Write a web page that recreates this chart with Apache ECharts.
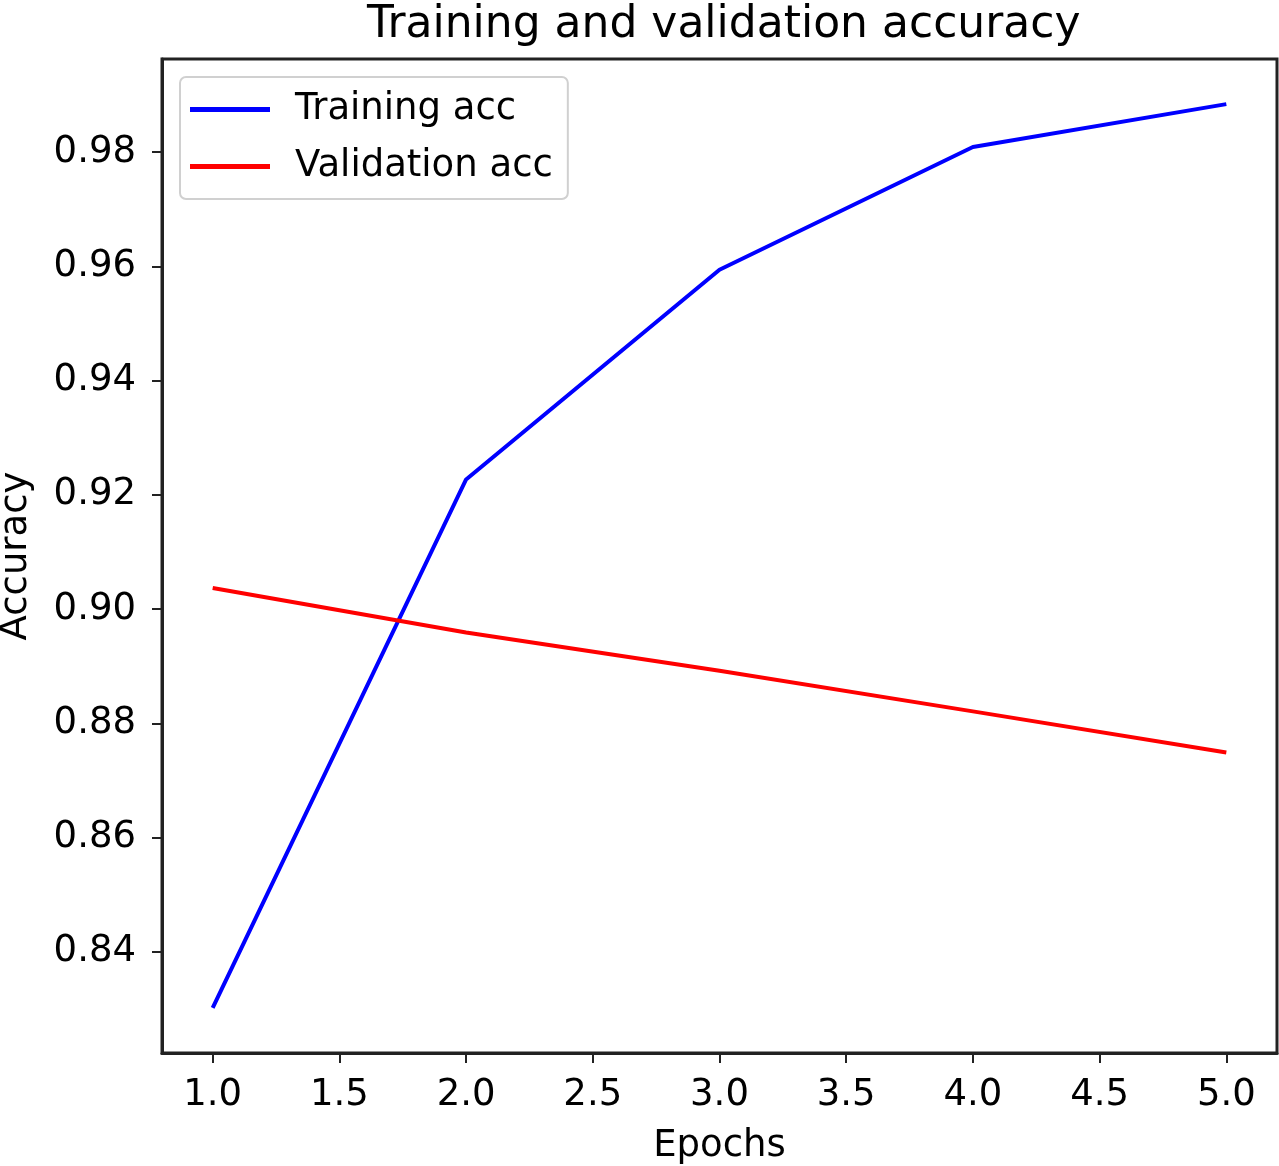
<!DOCTYPE html>
<html>
<head>
<meta charset="utf-8">
<script src="https://cdn.jsdelivr.net/npm/echarts@6/dist/echarts.min.js"></script>
<style>
  html, body { margin: 0; padding: 0; background: #fff; }
  #chart { width: 1279px; height: 1166px; }
</style>
</head>
<body>
<div id="chart"></div>
<script>
// data
const epochs = [1, 2, 3, 4, 5];
const trainAcc = [0.8302, 0.9227, 0.9594, 0.9809, 0.9884];
const valAcc = [0.9037, 0.8959, 0.8892, 0.8821, 0.8749];
const xTicks = [1.0, 1.5, 2.0, 2.5, 3.0, 3.5, 4.0, 4.5, 5.0];
const yTicks = [0.84, 0.86, 0.88, 0.90, 0.92, 0.94, 0.96, 0.98];

const font = 'DejaVu Sans';
const axisColor = '#222';

const chart = echarts.init(document.getElementById('chart'));
chart.setOption({
  backgroundColor: '#fff',
  animation: false,
  title: {
    text: 'Training and validation accuracy',
    left: 362,
    top: -1,
    textStyle: { fontFamily: font, fontSize: 44, fontWeight: 'normal', color: '#000' }
  },
  legend: {
    orient: 'vertical',
    left: 180,
    top: 77,
    padding: [14, 15, 14, 10],
    itemGap: 20,
    itemWidth: 80,
    itemHeight: 5,
    icon: 'rect',
    borderColor: '#d0d0d0',
    borderWidth: 2,
    borderRadius: 6,
    textStyle: { fontFamily: font, fontSize: 37, color: '#000', padding: [0, 0, 0, 20] },
    data: ['Training acc', 'Validation acc']
  },
  grid: {
    left: 162, right: 2, top: 59, bottom: 113,
    outerBoundsMode: 'none',
    containLabel: false,
    show: true, borderColor: axisColor, borderWidth: 3, backgroundColor: 'transparent'
  },
  xAxis: {
    type: 'value',
    min: 0.8, max: 5.2,
    name: 'Epochs',
    nameLocation: 'middle',
    nameGap: 75,
    nameTextStyle: { fontFamily: font, fontSize: 37, color: '#000' },
    axisLine: { show: true, onZero: false, lineStyle: { color: axisColor, width: 3 } },
    axisTick: { show: true, length: 10, lineStyle: { color: axisColor, width: 2 }, customValues: xTicks },
    axisLabel: {
      fontFamily: font, fontSize: 37, color: '#000', margin: 24,
      customValues: xTicks,
      formatter: v => v.toFixed(1)
    },
    splitLine: { show: false }
  },
  yAxis: {
    type: 'value',
    min: 0.8223, max: 0.9963,
    name: 'Accuracy',
    nameLocation: 'middle',
    nameGap: 127,
    nameTextStyle: { fontFamily: font, fontSize: 37, color: '#000' },
    axisLine: { show: true, lineStyle: { color: axisColor, width: 3 } },
    axisTick: { show: true, length: 10, lineStyle: { color: axisColor, width: 2 }, customValues: yTicks },
    axisLabel: {
      fontFamily: font, fontSize: 37, color: '#000', margin: 26,
      customValues: yTicks,
      formatter: v => v.toFixed(2)
    },
    splitLine: { show: false }
  },
  series: [
    {
      name: 'Training acc',
      type: 'line',
      data: epochs.map((e, i) => [e, trainAcc[i]]),
      showSymbol: false,
      lineStyle: { color: '#0000ff', width: 4 },
      itemStyle: { color: '#0000ff' }
    },
    {
      name: 'Validation acc',
      type: 'line',
      data: epochs.map((e, i) => [e, valAcc[i]]),
      showSymbol: false,
      lineStyle: { color: '#ff0000', width: 4 },
      itemStyle: { color: '#ff0000' }
    }
  ]
});
</script>
</body>
</html>
